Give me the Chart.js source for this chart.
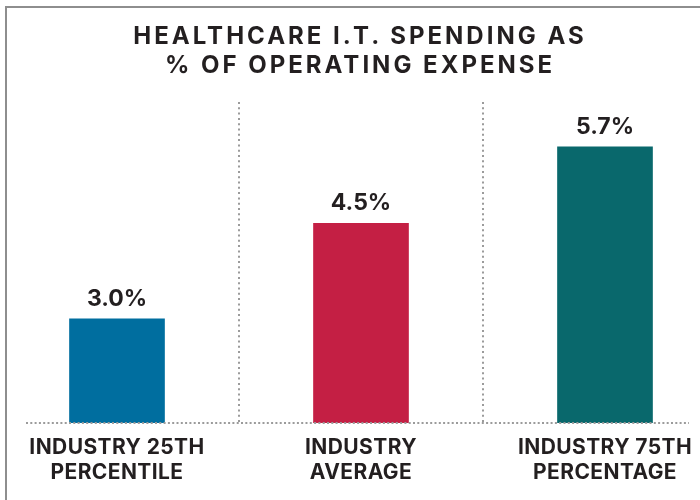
<!DOCTYPE html>
<html>
<head>
<meta charset="utf-8">
<title>Healthcare I.T. spending</title>
<script src="https://cdn.jsdelivr.net/npm/chart.js@4.4.1/dist/chart.umd.min.js"></script>
<style>
    html, body { margin: 0; padding: 0; background: #fff; }
    body { width: 700px; height: 500px; position: relative; overflow: hidden; font-family: Inter, sans-serif; }
    #frame {
        position: absolute; left: 5px; top: 6px; width: 720px; height: 520px;
        border-left: 2px solid #8e8e8e; border-top: 2px solid #8e8e8e;
    }
    #title {
        position: absolute; left: 10px; top: 21px; width: 700px;
        text-align: center; color: #231f20;
        font-size: 24px; font-weight: 700; line-height: 29px; letter-spacing: 3px;
    }
    #wrap { position: absolute; left: -5px; top: 0; width: 732px; height: 500px; }
</style>
</head>
<body>
<div id="frame"></div>
<div id="wrap"><canvas id="chart"></canvas></div>
<div id="title">HEALTHCARE I.T. SPENDING AS<br>% OF OPERATING EXPENSE</div>
<script>
// chart data
const categories = [
    ['INDUSTRY 25TH', 'PERCENTILE'],
    ['INDUSTRY', 'AVERAGE'],
    ['INDUSTRY 75TH', 'PERCENTAGE']
];
const spending = [3.0, 4.5, 5.7];
const barColors = ['#006e9f', '#c41f44', '#09686c'];

const textColor = '#231f20';
const dotColor = '#9b9b9b';

// slightly wider tracking for the axis labels
const tracking = {
    id: 'tracking',
    beforeDraw(chart) { chart.ctx.letterSpacing = '0.4px'; },
    afterDraw(chart) { chart.ctx.letterSpacing = '0px'; }
};

// value labels above the bars
const valueLabels = {
    id: 'valueLabels',
    afterDatasetsDraw(chart) {
        const ctx = chart.ctx;
        const meta = chart.getDatasetMeta(0);
        ctx.save();
        ctx.letterSpacing = '0px';
        ctx.fillStyle = textColor;
        ctx.font = '700 23px Inter';
        ctx.textAlign = 'center';
        ctx.textBaseline = 'alphabetic';
        meta.data.forEach((bar, i) => {
            ctx.fillText(spending[i].toFixed(1) + '%', bar.x, bar.y - 13);
        });
        ctx.restore();
    }
};

// dotted baseline under the bars
const baseline = {
    id: 'baseline',
    afterDatasetsDraw(chart) {
        const ctx = chart.ctx;
        const y = chart.scales.y.getPixelForValue(chart.scales.y.min);
        ctx.save();
        ctx.strokeStyle = dotColor;
        ctx.lineWidth = 2;
        ctx.setLineDash([2, 2.3]);
        ctx.beginPath();
        ctx.moveTo(31, y);
        ctx.lineTo(694, y);
        ctx.stroke();
        ctx.restore();
    }
};

const ctx = document.getElementById('chart').getContext('2d');
new Chart(ctx, {
    type: 'bar',
    data: {
        labels: categories,
        datasets: [{
            data: spending,
            backgroundColor: barColors,
            borderWidth: 0,
            barThickness: 95
        }]
    },
    options: {
        responsive: true,
        maintainAspectRatio: false,
        animation: false,
        layout: { padding: { top: 102, left: 0, right: 0, bottom: 0 } },
        plugins: {
            legend: { display: false },
            tooltip: { enabled: false }
        },
        scales: {
            x: {
                offset: true,
                grid: {
                    offset: true,
                    color: dotColor,
                    lineWidth: 2,
                    drawTicks: false
                },
                border: { display: false, dash: [2, 3.3] },
                ticks: {
                    color: textColor,
                    padding: 13,
                    font: { family: 'Inter', size: 21, weight: '700', lineHeight: 1.15 }
                },
                afterFit(scale) { scale.height = 77; }
            },
            y: {
                display: false,
                min: 1.364,
                max: 6.404
            }
        }
    },
    plugins: [tracking, valueLabels, baseline]
});
</script>
</body>
</html>
